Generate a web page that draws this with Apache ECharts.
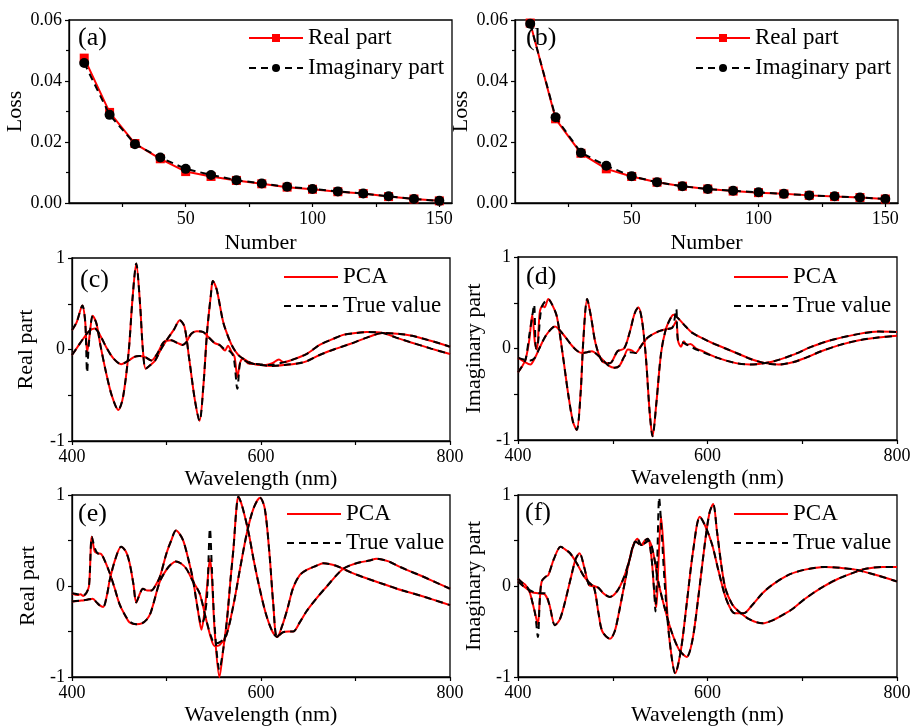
<!DOCTYPE html>
<html><head><meta charset="utf-8">
<script src="https://cdn.jsdelivr.net/npm/echarts@6/dist/echarts.min.js"></script>
<style>html,body{margin:0;padding:0;background:#fff}#c{width:912px;height:728px}</style>
</head><body><div id="c"></div>
<script>
// ---------- data ----------
const numbers = [10,20,30,40,50,60,70,80,90,100,110,120,130,140,150];
const realA = [0.0475,0.0297,0.0195,0.0145,0.0103,0.0087,0.0074,0.0063,0.0052,0.0045,0.0037,0.0031,0.0021,0.0013,0.0007];
const imagA = [0.0459,0.0289,0.0193,0.0149,0.0112,0.0092,0.0075,0.0064,0.0053,0.0046,0.0038,0.0031,0.0022,0.0013,0.0007];
const realB = [0.0590,0.0276,0.0163,0.0112,0.0087,0.0068,0.0055,0.0046,0.0039,0.0034,0.0030,0.0025,0.0021,0.0018,0.0013];
const imagB = [0.0588,0.0281,0.0165,0.0122,0.0088,0.0068,0.0055,0.0046,0.0040,0.0035,0.0030,0.0025,0.0022,0.0018,0.0013];
const lossTicks = [0, 0.02, 0.04, 0.06];
const numberTicks = [50, 100, 150];
const numberMinor = [25, 75, 125];
const waveTicks = [400, 600, 800];
const partTicks = [-1, 0, 1];

// panel (c) real part
const cA_true = [[400,0.21],[405,0.3],[411,0.48],[414,0.3],[416,-0.25],[418,0.08],[422,0.37],[426,0.28],[430,0.05],[436,-0.25],[442,-0.5],[449,-0.66],[454,-0.52],[460,-0.02],[464,0.55],[468,0.94],[472,0.5],[475,0.0],[478,-0.21],[483,-0.17],[488,-0.12],[494,0.0],[500,0.1],[508,0.22],[514,0.32],[519,0.25],[524,-0.1],[530,-0.55],[535,-0.78],[539,-0.4],[543,0.2],[547,0.6],[549,0.75],[553,0.66],[560,0.3],[566,0.12],[571,0.01],[576,-0.06],[581,-0.1],[590,-0.15],[600,-0.17],[612,-0.18],[625,-0.17],[640,-0.15],[648,-0.13],[662,-0.06],[677,0.0],[694,0.06],[712,0.13],[729,0.18],[747,0.17],[760,0.15],[771,0.12],[785,0.08],[800,0.03]];
const cA_pca  = [[400,0.21],[405,0.3],[411,0.48],[414,0.3],[416,-0.03],[418,0.1],[422,0.37],[426,0.28],[430,0.05],[436,-0.25],[442,-0.5],[449,-0.66],[454,-0.52],[460,-0.02],[464,0.55],[468,0.94],[472,0.5],[475,0.0],[478,-0.21],[483,-0.17],[488,-0.12],[494,0.0],[500,0.1],[508,0.22],[514,0.32],[519,0.25],[524,-0.1],[530,-0.55],[535,-0.78],[539,-0.4],[543,0.2],[547,0.6],[549,0.75],[553,0.66],[560,0.3],[566,0.12],[571,0.01],[576,-0.06],[581,-0.1],[590,-0.15],[600,-0.17],[612,-0.18],[625,-0.17],[640,-0.15],[648,-0.13],[662,-0.06],[677,0.0],[694,0.06],[712,0.13],[729,0.18],[747,0.17],[760,0.15],[771,0.12],[785,0.08],[800,0.03]];
const cB_true = [[400,-0.06],[406,0.03],[412,0.12],[418,0.2],[424,0.23],[430,0.15],[437,0.01],[444,-0.1],[452,-0.16],[460,-0.12],[466,-0.08],[471,-0.07],[477,-0.08],[484,-0.12],[490,-0.05],[497,0.08],[505,0.1],[512,0.07],[517,0.05],[521,0.08],[526,0.17],[532,0.2],[539,0.19],[544,0.14],[551,0.07],[556,0.05],[562,0.0],[567,-0.02],[571,-0.08],[575,-0.43],[578,-0.14],[582,-0.12],[588,-0.15],[598,-0.16],[609,-0.17],[620,-0.15],[631,-0.12],[648,-0.05],[662,0.05],[675,0.11],[687,0.16],[700,0.18],[712,0.19],[729,0.18],[743,0.13],[758,0.08],[780,0.01],[800,-0.05]];
const cB_pca  = [[400,-0.06],[406,0.03],[412,0.12],[418,0.2],[424,0.23],[430,0.15],[437,0.01],[444,-0.1],[452,-0.16],[460,-0.12],[466,-0.08],[471,-0.07],[477,-0.08],[484,-0.12],[490,-0.05],[497,0.08],[505,0.1],[512,0.07],[517,0.05],[521,0.08],[526,0.17],[532,0.2],[539,0.19],[544,0.14],[551,0.07],[556,0.05],[562,-0.01],[565,0.04],[569,-0.03],[572,-0.08],[575,-0.3],[578,-0.14],[581,-0.1],[586,-0.15],[595,-0.16],[605,-0.17],[612,-0.15],[619,-0.11],[624,-0.14],[631,-0.12],[648,-0.05],[662,0.05],[675,0.11],[687,0.16],[700,0.18],[712,0.19],[729,0.18],[743,0.13],[758,0.08],[780,0.01],[800,-0.05]];

// panel (d) imaginary part
const dA_true = [[400,-0.26],[404,-0.2],[408,-0.12],[412,0.15],[415,0.35],[417,0.48],[419,0.0],[421,0.05],[425,0.45],[432,0.54],[436,0.48],[441,0.35],[447,-0.05],[453,-0.5],[458,-0.8],[462,-0.89],[466,-0.5],[469,0.1],[473,0.54],[477,0.35],[482,0.05],[489,-0.14],[497,-0.16],[505,-0.03],[512,0.0],[518,0.18],[523,0.38],[527,0.45],[531,0.3],[535,-0.1],[539,-0.7],[542,-0.96],[546,-0.6],[551,-0.05],[556,0.21],[561,0.33],[564,0.37],[570,0.32],[577,0.24],[584,0.17],[595,0.11],[605,0.06],[619,0.0],[633,-0.06],[647,-0.12],[661,-0.16],[675,-0.175],[690,-0.15],[704,-0.1],[720,-0.03],[740,0.04],[760,0.09],[780,0.12],[800,0.14]];
const dA_pca  = [[400,-0.26],[404,-0.2],[408,-0.12],[412,0.1],[415,0.37],[418,0.05],[420,-0.01],[423,0.4],[426,0.47],[428,0.45],[432,0.54],[436,0.48],[441,0.35],[447,-0.05],[453,-0.5],[458,-0.8],[462,-0.89],[466,-0.5],[469,0.1],[473,0.54],[477,0.35],[482,0.05],[489,-0.14],[497,-0.16],[505,-0.03],[512,0.0],[518,0.18],[523,0.38],[527,0.45],[531,0.3],[535,-0.1],[539,-0.7],[542,-0.96],[546,-0.6],[551,-0.05],[556,0.21],[561,0.33],[564,0.37],[570,0.32],[577,0.24],[584,0.17],[595,0.11],[605,0.06],[619,0.0],[633,-0.06],[647,-0.12],[661,-0.16],[675,-0.175],[690,-0.15],[704,-0.1],[720,-0.03],[740,0.04],[760,0.09],[780,0.12],[800,0.14]];
const dB_true = [[400,-0.1],[406,-0.12],[413,-0.13],[418,-0.1],[422,-0.01],[430,0.15],[439,0.24],[448,0.15],[457,0.03],[463,-0.03],[468,-0.05],[473,-0.04],[478,-0.03],[484,-0.07],[489,-0.12],[496,-0.19],[502,-0.21],[507,-0.19],[512,-0.09],[518,-0.04],[524,-0.05],[530,0.03],[537,0.12],[549,0.19],[556,0.21],[563,0.23],[567,0.43],[569,0.08],[575,0.06],[584,0.01],[595,-0.04],[610,-0.1],[630,-0.16],[645,-0.175],[654,-0.17],[670,-0.14],[690,-0.07],[710,0.02],[730,0.09],[760,0.16],[781,0.185],[800,0.18]];
const dB_pca  = [[400,-0.1],[406,-0.14],[413,-0.175],[418,-0.1],[422,-0.01],[430,0.15],[439,0.24],[448,0.15],[457,0.03],[463,-0.03],[468,-0.05],[473,-0.04],[478,-0.03],[484,-0.07],[489,-0.12],[496,-0.19],[502,-0.21],[507,-0.19],[512,-0.09],[516,-0.01],[520,-0.02],[524,-0.05],[530,0.03],[537,0.12],[549,0.19],[556,0.21],[563,0.23],[567,0.3],[569,0.08],[572,0.02],[575,0.08],[578,0.04],[582,0.05],[588,0.0],[595,-0.03],[610,-0.1],[630,-0.16],[645,-0.175],[654,-0.17],[670,-0.14],[690,-0.07],[710,0.02],[730,0.09],[760,0.16],[781,0.185],[800,0.18]];

// panel (e) real part
const eA_true = [[400,-0.17],[410,-0.16],[416,-0.15],[422,-0.14],[426,-0.18],[429,-0.21],[433,-0.23],[437,-0.1],[440,0.07],[446,0.3],[452,0.43],[457,0.38],[461,0.25],[465,0.02],[468,-0.18],[472,-0.08],[475,-0.03],[480,-0.05],[484,-0.05],[488,0.0],[493,0.1],[500,0.36],[505,0.5],[510,0.61],[514,0.57],[518,0.49],[523,0.3],[528,0.07],[533,-0.25],[537,-0.42],[540,-0.35],[543,-0.1],[546,0.63],[548,0.2],[551,-0.45],[556,-0.92],[560,-0.7],[564,-0.37],[568,0.1],[571,0.43],[574,0.85],[576,0.98],[580,0.88],[587,0.58],[592,0.3],[598,0.0],[605,-0.3],[612,-0.5],[617,-0.56],[622,-0.45],[628,-0.25],[634,-0.02],[641,0.12],[649,0.18],[658,0.22],[666,0.25],[680,0.22],[695,0.15],[710,0.09],[730,0.02],[750,-0.05],[770,-0.11],[785,-0.16],[800,-0.21]];
const eA_pca  = [[400,-0.17],[410,-0.16],[416,-0.15],[422,-0.14],[426,-0.18],[429,-0.21],[433,-0.23],[437,-0.1],[440,0.07],[446,0.3],[452,0.43],[457,0.38],[461,0.25],[465,0.02],[468,-0.18],[472,-0.08],[475,-0.03],[480,-0.05],[484,-0.05],[488,0.0],[493,0.1],[500,0.36],[505,0.5],[510,0.61],[514,0.57],[518,0.49],[523,0.3],[528,0.07],[533,-0.25],[537,-0.48],[540,-0.3],[543,0.0],[546,0.3],[548,0.1],[551,-0.5],[556,-1.0],[560,-0.7],[564,-0.37],[568,0.1],[571,0.43],[574,0.85],[576,0.98],[580,0.88],[587,0.58],[592,0.3],[598,0.0],[605,-0.3],[612,-0.5],[617,-0.56],[622,-0.45],[628,-0.25],[634,-0.02],[641,0.12],[649,0.18],[658,0.22],[666,0.25],[680,0.22],[695,0.15],[710,0.09],[730,0.02],[750,-0.05],[770,-0.11],[785,-0.16],[800,-0.21]];
const eB_true = [[400,-0.08],[406,-0.09],[412,-0.1],[415,-0.08],[418,0.0],[421,0.54],[424,0.42],[427,0.36],[431,0.35],[435,0.27],[440,0.14],[445,-0.02],[450,-0.19],[455,-0.3],[461,-0.39],[468,-0.42],[474,-0.41],[479,-0.37],[483,-0.3],[486,-0.2],[493,0.05],[500,0.18],[505,0.24],[510,0.27],[515,0.25],[521,0.19],[528,0.05],[535,-0.08],[542,-0.37],[547,-0.55],[551,-0.63],[556,-0.62],[563,-0.55],[571,-0.2],[578,0.2],[585,0.58],[592,0.85],[599,0.97],[604,0.85],[609,0.35],[613,-0.2],[617,-0.56],[623,-0.51],[629,-0.5],[634,-0.5],[641,-0.4],[648,-0.28],[660,-0.12],[670,0.0],[680,0.12],[687,0.19],[695,0.23],[705,0.26],[715,0.28],[722,0.3],[735,0.27],[747,0.21],[758,0.16],[770,0.11],[785,0.04],[800,-0.03]];
const eB_pca  = [[400,-0.08],[406,-0.1],[409,-0.09],[412,-0.11],[415,-0.08],[418,0.0],[421,0.54],[424,0.38],[427,0.36],[431,0.35],[435,0.27],[440,0.14],[445,-0.02],[450,-0.19],[455,-0.3],[461,-0.4],[468,-0.42],[474,-0.41],[479,-0.37],[483,-0.3],[486,-0.2],[493,0.05],[500,0.18],[505,0.24],[510,0.27],[515,0.25],[521,0.19],[528,0.05],[535,-0.08],[542,-0.37],[547,-0.57],[551,-0.66],[556,-0.65],[563,-0.55],[571,-0.2],[578,0.2],[585,0.58],[592,0.85],[599,0.97],[604,0.85],[609,0.35],[613,-0.2],[617,-0.56],[623,-0.51],[629,-0.5],[634,-0.5],[641,-0.4],[648,-0.28],[660,-0.12],[670,0.0],[680,0.12],[687,0.19],[695,0.23],[705,0.26],[715,0.28],[722,0.3],[735,0.27],[747,0.21],[758,0.16],[770,0.11],[785,0.04],[800,-0.03]];

// panel (f) imaginary part
const fA_true = [[400,0.08],[404,0.04],[408,0.01],[412,-0.05],[415,-0.17],[418,-0.3],[421,-0.56],[423,-0.15],[425,0.05],[429,0.1],[432,0.12],[438,0.3],[445,0.43],[450,0.4],[455,0.36],[462,0.25],[470,0.1],[478,0.01],[485,-0.02],[490,-0.08],[497,-0.12],[505,-0.05],[512,0.1],[518,0.3],[522,0.45],[526,0.52],[530,0.45],[534,0.5],[537,0.52],[541,0.3],[544,-0.1],[545,-0.28],[547,0.3],[549,0.97],[551,0.7],[555,0.0],[560,-0.6],[566,-0.96],[572,-0.7],[578,-0.2],[585,0.4],[592,0.76],[598,0.65],[605,0.45],[612,0.15],[620,-0.15],[629,-0.3],[638,-0.3],[648,-0.2],[658,-0.08],[668,0.01],[685,0.12],[703,0.18],[724,0.21],[740,0.2],[756,0.18],[778,0.12],[800,0.05]];
const fA_pca  = [[400,0.08],[404,0.04],[408,0.01],[412,-0.06],[415,-0.17],[418,-0.3],[421,-0.42],[423,-0.15],[425,0.05],[429,0.1],[432,0.12],[438,0.3],[445,0.43],[450,0.4],[455,0.36],[462,0.25],[470,0.1],[478,0.01],[485,-0.02],[490,-0.08],[497,-0.12],[505,-0.05],[512,0.1],[518,0.3],[522,0.45],[526,0.52],[530,0.45],[534,0.5],[537,0.52],[541,0.3],[544,-0.1],[546,-0.23],[548,0.2],[551,0.76],[554,0.35],[557,-0.2],[560,-0.6],[566,-0.96],[572,-0.7],[578,-0.2],[585,0.4],[592,0.76],[598,0.65],[605,0.45],[612,0.15],[620,-0.15],[629,-0.3],[638,-0.3],[648,-0.2],[658,-0.08],[668,0.01],[685,0.12],[703,0.18],[724,0.21],[740,0.2],[756,0.18],[778,0.12],[800,0.05]];
const fB_true = [[400,0.05],[408,-0.02],[415,-0.06],[421,-0.08],[428,-0.08],[433,-0.2],[439,-0.43],[444,-0.37],[449,-0.2],[456,0.1],[461,0.3],[465,0.36],[470,0.2],[475,0.01],[480,-0.01],[485,-0.3],[489,-0.5],[497,-0.58],[502,-0.5],[506,-0.32],[512,0.0],[518,0.3],[524,0.49],[530,0.45],[538,0.5],[543,0.35],[548,0.05],[555,-0.25],[562,-0.5],[570,-0.7],[578,-0.78],[584,-0.6],[590,-0.15],[597,0.45],[602,0.8],[606,0.9],[610,0.6],[615,0.2],[619,-0.03],[626,-0.2],[633,-0.28],[645,-0.37],[658,-0.41],[668,-0.38],[679,-0.32],[690,-0.25],[703,-0.14],[720,-0.02],[738,0.08],[755,0.15],[767,0.19],[785,0.21],[800,0.21]];
const fB_pca  = [[400,0.05],[408,-0.02],[415,-0.07],[421,-0.08],[428,-0.09],[433,-0.2],[439,-0.43],[444,-0.37],[449,-0.2],[456,0.1],[461,0.3],[465,0.36],[470,0.2],[475,0.01],[480,-0.01],[485,-0.3],[489,-0.5],[497,-0.58],[502,-0.5],[506,-0.32],[512,0.0],[518,0.3],[524,0.49],[530,0.45],[538,0.5],[543,0.35],[548,0.05],[555,-0.25],[562,-0.5],[570,-0.7],[578,-0.78],[584,-0.6],[590,-0.15],[597,0.45],[602,0.8],[606,0.9],[610,0.6],[615,0.2],[619,-0.03],[626,-0.2],[633,-0.28],[645,-0.37],[658,-0.41],[668,-0.38],[679,-0.32],[690,-0.25],[703,-0.14],[720,-0.02],[738,0.08],[755,0.15],[767,0.19],[785,0.21],[800,0.21]];

// ---------- chart ----------
const FONT = 'Liberation Serif';
const RED = '#ff0000', BLACK = '#000000';
const grids = [
  {left:69, top:20, width:383, height:183},
  {left:515, top:20, width:383, height:183},
  {left:72, top:258, width:378, height:183},
  {left:518, top:257, width:379, height:183},
  {left:72, top:495, width:378, height:182},
  {left:518, top:495, width:379, height:182}
].map(g => Object.assign({show:true, borderColor:BLACK, borderWidth:1.3, backgroundColor:'transparent', containLabel:false, outerBoundsMode:'none'}, g));

const lbl = {color:BLACK, fontFamily:FONT, fontSize:18};
const nameTS = {color:BLACK, fontFamily:FONT, fontSize:22};
const axLine = {show:true, onZero:false, lineStyle:{color:BLACK, width:1.3}};

function xNumber(i){
  return {type:'value', gridIndex:i, min:4, max:155, position:'bottom',
    name:'Number', nameLocation:'middle', nameGap:29, nameTextStyle:nameTS,
    axisLine:axLine, splitLine:{show:false},
    axisTick:{show:true, length:4, lineStyle:{color:BLACK, width:1.2}, customValues:numberMinor.concat(numberTicks)},
    axisLabel:Object.assign({margin:7, customValues:numberTicks}, lbl)};
}
function yLoss(i){
  return {type:'value', gridIndex:i, min:lossTicks[0], max:lossTicks[lossTicks.length-1], interval:0.02,
    name:'Loss', nameLocation:'middle', nameGap:40, nameTextStyle:nameTS,
    axisLine:axLine, splitLine:{show:false},
    axisTick:{show:true, length:4, lineStyle:{color:BLACK, width:1.2}},
    minorTick:{show:true, splitNumber:2, length:3, lineStyle:{color:BLACK, width:1.2}},
    axisLabel:Object.assign({margin:7, formatter:v => v.toFixed(2)}, lbl)};
}
function xWave(i, gap){
  return {type:'value', gridIndex:i, min:waveTicks[0], max:waveTicks[2], interval:200,
    name:'Wavelength (nm)', nameLocation:'middle', nameGap:gap, nameTextStyle:nameTS,
    axisLine:axLine, splitLine:{show:false},
    axisTick:{show:true, length:4, lineStyle:{color:BLACK, width:1.2}},
    minorTick:{show:true, splitNumber:2, length:4, lineStyle:{color:BLACK, width:1.2}},
    axisLabel:Object.assign({margin:7}, lbl)};
}
function yPart(i, name, gap){
  return {type:'value', gridIndex:i, min:partTicks[0], max:partTicks[2], interval:1,
    name:name, nameLocation:'middle', nameGap:gap, nameTextStyle:nameTS,
    axisLine:axLine, splitLine:{show:false},
    axisTick:{show:true, length:4, lineStyle:{color:BLACK, width:1.2}},
    minorTick:{show:true, splitNumber:2, length:4, lineStyle:{color:BLACK, width:1.2}},
    axisLabel:Object.assign({margin:7}, lbl)};
}

function lossSeries(name, xs, ys, gi, kind){
  const isReal = kind === 'real';
  return {type:'line', name:name, xAxisIndex:gi, yAxisIndex:gi,
    data: xs.map((x,k)=>[x, ys[k]]),
    symbol: isReal ? 'rect' : 'circle', symbolSize: isReal ? 9 : 10, showSymbol:true,
    itemStyle:{color: isReal ? RED : BLACK},
    lineStyle:{color: isReal ? RED : BLACK, width:2, type: isReal ? 'solid' : [7,5]},
    z: isReal ? 2 : 3, animation:false};
}
function waveSeries(name, data, gi, kind){
  const isPCA = kind === 'pca';
  return {type:'line', name:name, xAxisIndex:gi, yAxisIndex:gi, data:data,
    symbol:'none', showSymbol:false, smooth:0.3,
    itemStyle:{color: isPCA ? RED : BLACK},
    lineStyle:{color: isPCA ? RED : BLACK, width:2, type: isPCA ? 'solid' : [7,5]},
    z: isPCA ? 2 : 3, animation:false};
}

function legend(left, top, names, gap, noSymbol){
  const lg = {orient:'vertical', left:left, top:top, padding:0, itemGap:gap, itemWidth:54, itemHeight:10,
    data:names, selectedMode:false,
    textStyle:{color:BLACK, fontFamily:FONT, fontSize:23, lineHeight:24}};
  if (noSymbol) lg.itemStyle = {opacity:0, borderWidth:0};
  return lg;
}

const panelLabels = [['(a)',78,38],['(b)',526,38],['(c)',80,280],['(d)',526,277],['(e)',78,514],['(f)',525,513]];

const option = {
  animation:false,
  backgroundColor:'#ffffff',
  grid: grids,
  xAxis: [xNumber(0), xNumber(1), xWave(2,27), xWave(3,27), xWave(4,27), xWave(5,27)],
  yAxis: [yLoss(0), yLoss(1), yPart(2,'Real part',35), yPart(3,'Imaginary part',33), yPart(4,'Real part',33), yPart(5,'Imaginary part',33)],
  legend: [
    legend(248, 26, ['Real part','Imaginary part'], 6, false),
    legend(695, 26, ['Real part','Imaginary part'], 6, false),
    legend(283, 265, ['PCA','True value'], 5, true),
    legend(733, 265, ['PCA','True value'], 5, true),
    legend(286, 502, ['PCA','True value'], 5, true),
    legend(733, 502, ['PCA','True value'], 5, true)
  ],
  graphic: panelLabels.map(p => ({type:'text', left:p[1], top:p[2]-13, z:100,
    style:{text:p[0], fill:BLACK, font:'26px "Liberation Serif"'}})),
  series: [
    lossSeries('Real part', numbers, realA, 0, 'real'),
    lossSeries('Imaginary part', numbers, imagA, 0, 'imag'),
    lossSeries('Real part', numbers, realB, 1, 'real'),
    lossSeries('Imaginary part', numbers, imagB, 1, 'imag'),
    waveSeries('PCA', cA_pca, 2, 'pca'), waveSeries('PCA', cB_pca, 2, 'pca'),
    waveSeries('True value', cA_true, 2, 'true'), waveSeries('True value', cB_true, 2, 'true'),
    waveSeries('PCA', dA_pca, 3, 'pca'), waveSeries('PCA', dB_pca, 3, 'pca'),
    waveSeries('True value', dA_true, 3, 'true'), waveSeries('True value', dB_true, 3, 'true'),
    waveSeries('PCA', eA_pca, 4, 'pca'), waveSeries('PCA', eB_pca, 4, 'pca'),
    waveSeries('True value', eA_true, 4, 'true'), waveSeries('True value', eB_true, 4, 'true'),
    waveSeries('PCA', fA_pca, 5, 'pca'), waveSeries('PCA', fB_pca, 5, 'pca'),
    waveSeries('True value', fA_true, 5, 'true'), waveSeries('True value', fB_true, 5, 'true')
  ]
};
const chart = echarts.init(document.getElementById('c'), null, {renderer:'canvas'});
chart.setOption(option);
</script>
</body></html>
